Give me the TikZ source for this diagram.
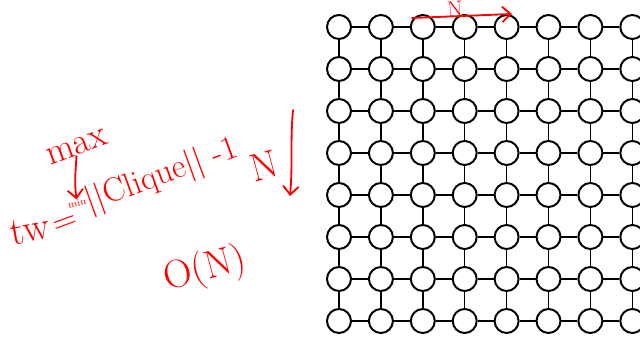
\documentclass[tikz,border=0pt]{standalone}
\usepackage{fontspec}
\usepackage{xcolor}
\usepackage{tikz}
\usetikzlibrary{arrows.meta}
\definecolor{penRed}{HTML}{FF0000}
\tikzset{
  vertex/.style={circle, line width=1.4pt, draw=black, fill=white, minimum size=0.6cm, inner sep=0pt},
  edge/.style={line width=1.1pt},
  red_text/.style={text=penRed, font=\fontsize{24}{24}\selectfont, inner sep=0pt},
  red_edge/.style={line width=1.3pt, draw=penRed, line cap=round},
  red_tip/.style={-{Straight Barb[length=6pt, width=11pt]}}
}

\begin{document}
\begin{tikzpicture}[x=0.025cm, y=-0.025cm]
        \useasboundingbox (0,0) rectangle (640,339);
        \clip (0,0) rectangle (640,339);
        % grid graph
        \foreach \r in {0,...,7}
          \foreach \c in {0,...,7}
            \node[vertex] (v\r\c) at (339+41.9*\c, 27+42*\r) {};
        \foreach \r in {0,...,7}
          \foreach \c [count=\d from 1] in {0,...,6}
            \draw[edge] (v\r\c) -- (v\r\d);
        \foreach \r [count=\s from 1] in {0,...,6}
          \foreach \c in {0,...,7}
            \draw[edge] (v\r\c) -- (v\s\c);
        % notes
        \node[red_text, font=\fontsize{28}{28}\selectfont, rotate=10] (tw) at (30, 230) {tw};
        \node[red_text, rotate=20] (eq) at (66, 225) {=};
        \node[red_text, font=\fontsize{7}{7}\selectfont, rotate=15] (min) at (77, 203) {min};
        \node[red_text, rotate=20] (clique) at (162, 176) {||Clique|| -1};
        \node[red_text, font=\fontsize{26}{26}\selectfont, rotate=20] (max) at (77, 147) {max};
        \draw[red_edge, red_tip] (max) to[out=-100, in=95] (min);
        \node[red_text, font=\fontsize{28}{28}\selectfont, rotate=15] (n1) at (264, 166) {N};
        \coordinate (d1) at (293, 110);
        \coordinate (d2) at (290, 196);
        \draw[red_edge, red_tip] (d1) to[out=-95, in=85] (d2);
        \node[red_text, font=\fontsize{28}{28}\selectfont, rotate=15] (big_o) at (205, 270) {O(N)};
        \node[red_text, font=\fontsize{16}{16}\selectfont, rotate=5] (n2) at (455, 9) {N};
        \coordinate (a1) at (412, 18);
        \coordinate (a2) at (512, 14);
        \draw[red_edge, red_tip] (a1) -- (a2);
    \end{tikzpicture}
\end{document}
